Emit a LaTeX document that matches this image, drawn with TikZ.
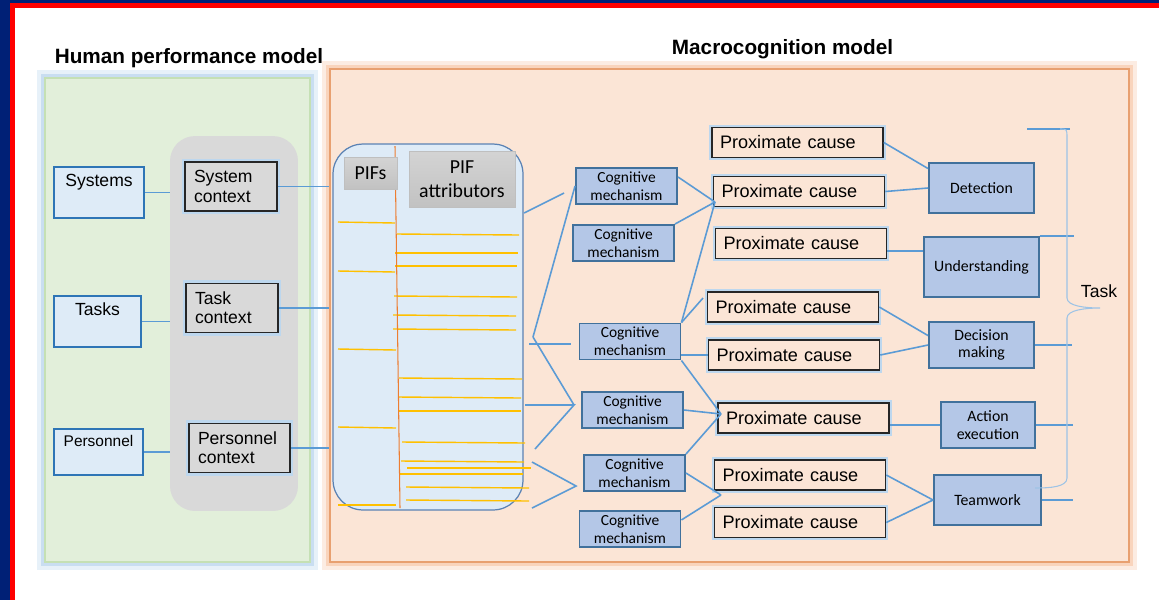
\documentclass[tikz,border=0pt]{standalone}
\usepackage{fontspec}
\setmainfont{Liberation Sans}
\newfontfamily\calibri{Carlito}
\usepackage{tikz}

\definecolor{framenavy}{RGB}{0,32,118}
\definecolor{framered}{RGB}{255,0,0}
\definecolor{hpmgreen}{RGB}{226,239,218}
\definecolor{hpmedge}{RGB}{197,224,180}
\definecolor{glowblue}{RGB}{189,215,238}
\definecolor{mcmfill}{RGB}{251,229,214}
\definecolor{mcmedge}{RGB}{232,160,112}
\definecolor{glowor}{RGB}{248,203,173}
\definecolor{ctxgray}{RGB}{217,217,217}
\definecolor{srcfill}{RGB}{222,235,247}
\definecolor{srcedge}{RGB}{46,117,182}
\definecolor{cogfill}{RGB}{180,199,231}
\definecolor{cogedge}{RGB}{65,113,156}
\definecolor{linkblue}{RGB}{91,155,213}
\definecolor{bracecol}{RGB}{157,195,230}
\definecolor{pifyellow}{RGB}{255,192,0}
\definecolor{piforange}{RGB}{237,125,49}
\definecolor{pifedge}{RGB}{90,130,180}
\definecolor{tabgray}{RGB}{203,203,203}

\tikzset{
  link/.style={draw=linkblue, line width=0.9pt},
  attr/.style={draw=pifyellow, line width=0.8pt},
  panel/.style={inner sep=0pt, line width=1pt},
  glow/.style={preaction={draw=#1, line width=9pt, draw opacity=0.35},
    preaction={draw=#1, line width=5pt, draw opacity=0.7}},
  srcbox/.style={draw=srcedge, fill=srcfill, line width=1pt, inner sep=0pt},
  srctext/.style={anchor=north, inner sep=0pt, yshift=-0.15cm, font=\fontsize{10}{12}\selectfont},
  ctxbox/.style={draw=black!85, fill=ctxgray, line width=1pt,
    preaction={draw=glowblue, line width=3.5pt}, align=left,
    inner xsep=0.18cm, minimum height=0.98cm, font=\fontsize{10}{11}\selectfont},
  tabbox/.style={draw=black!25, top color=black!17, bottom color=black!24,
    align=center, inner sep=0pt, font=\calibri\fontsize{11.3}{13.7}\selectfont},
  cogbox/.style={draw=cogedge, fill=cogfill, line width=1.1pt, align=center,
    inner sep=0pt, minimum width=2.02cm, minimum height=0.72cm,
    font=\calibri\fontsize{8.8}{10.2}\selectfont},
  causebox/.style={draw=black!85, fill=mcmfill, line width=0.9pt,
    preaction={draw=glowblue, line width=3pt}, text width=3.1cm, align=left,
    inner xsep=0.16cm, inner ysep=0pt, minimum height=0.6cm,
    font=\fontsize{10.3}{12}\selectfont},
  taskbox/.style={draw=cogedge, fill=cogfill, line width=1.1pt, align=center,
    inner sep=0pt, font=\calibri\fontsize{9}{10}\selectfont},
  title/.style={font=\bfseries\fontsize{11.8}{14}\selectfont}
}

\begin{document}
\begin{tikzpicture}[x=0.02cm, y=-0.02cm]
\useasboundingbox (0,0) rectangle (1159,600);
\fill[white] (0,0) rectangle (1159,600);
\fill[framenavy] (0,0) rectangle (10,600);
\fill[framenavy] (0,0) rectangle (1159,3);
\fill[framered] (10,3) rectangle (15,600);
\fill[framered] (10,3) rectangle (1159,8);

\node[title] (hpmtitle) at (189,58) {Human performance model};
\node[title] (mcmtitle) at (782.5,49.5) {Macrocognition model};

\node[panel, draw=hpmedge, fill=hpmgreen, glow=glowblue,
  minimum width=5.3cm, minimum height=9.68cm] (hpm) at (177.5,320) {};
\node[panel, draw=mcmedge, fill=mcmfill, glow=glowor,
  minimum width=15.98cm, minimum height=9.86cm] (mcm) at (729.5,315.5) {};

\node[fill=ctxgray, rounded corners=0.5cm, minimum width=2.56cm, minimum height=7.5cm] (ctxbg) at (234,323.5) {};

\node[srcbox, minimum width=1.8cm, minimum height=1.02cm, label={[srctext]north:Systems}] (systems) at (99,192.5) {};
\node[srcbox, minimum width=1.74cm, minimum height=1.02cm, label={[srctext]north:Tasks}] (tasks) at (97.5,321.5) {};
\node[srcbox, minimum width=1.78cm, minimum height=0.92cm,
  label={[srctext, yshift=0.02cm, font=\fontsize{8.8}{10}\selectfont]north:Personnel}] (personnel) at (98.5,452) {};

\node[ctxbox, text width=1.48cm] (sysctx) at (231,186.5) {System\\context};
\node[ctxbox, text width=1.48cm] (taskctx) at (232,308) {Task\\context};
\node[ctxbox, text width=1.66cm] (persctx) at (239.5,448) {Personnel\\context};

\node[draw=pifedge, fill=srcfill, line width=0.7pt, rounded corners=0.6cm,
  minimum width=3.8cm, minimum height=7.32cm] (pif) at (428,327) {};

\draw[attr] (338,222) -- (395,223);
\draw[attr] (338,271) -- (395,272);
\draw[attr] (338,349) -- (396,350);
\draw[attr] (338,427) -- (396,428);
\draw[attr] (338,505) -- (396,505);
\draw[attr] (397,234) -- (519,235);
\draw[attr] (395,253) -- (518,253);
\draw[attr] (395,266) -- (517,266);
\draw[attr] (394,296) -- (517,297);
\draw[attr] (393,315) -- (516,316);
\draw[attr] (393,329) -- (516,330);
\draw[attr] (399,378) -- (522,379);
\draw[attr] (398,397) -- (521,398);
\draw[attr] (399,411) -- (521,411);
\draw[attr] (402,442) -- (525,443);
\draw[attr] (401,461) -- (524,462);
\draw[attr] (407,468) -- (531,468);
\draw[attr] (400,474) -- (523,474);
\draw[attr] (406,487) -- (529,488);
\draw[attr] (406,500) -- (529,501);
\draw[piforange, line width=0.6pt] (395,146) -- (400,508);

\node[tabbox, minimum width=1.06cm, minimum height=0.64cm] (pifs) at (370.5,173) {PIFs};
\node[tabbox, minimum width=2.12cm, minimum height=1.12cm] (pifattr) at (462,179) {PIF\\attributors};

\node[cogbox] (cm1) at (626.5,186) {Cognitive\\mechanism};
\node[cogbox] (cm2) at (623.5,243) {Cognitive\\mechanism};
\node[cogbox] (cm3) at (630,341.5) {Cognitive\\mechanism};
\node[cogbox] (cm4) at (632.5,410) {Cognitive\\mechanism};
\node[cogbox] (cm5) at (634.5,473) {Cognitive\\mechanism};
\node[cogbox] (cm6) at (630,529) {Cognitive\\mechanism};

\node[causebox] (pc1) at (797.5,142.5) {Proximate cause};
\node[causebox] (pc2) at (799,191.5) {Proximate cause};
\node[causebox] (pc3) at (801,243.5) {Proximate cause};
\node[causebox] (pc4) at (793,307) {Proximate cause};
\node[causebox] (pc5) at (794,355) {Proximate cause};
\node[causebox] (pc6) at (803.5,418) {Proximate cause};
\node[causebox] (pc7) at (800,475) {Proximate cause};
\node[causebox] (pc8) at (800,522.5) {Proximate cause};

\node[taskbox, minimum width=2.1cm, minimum height=1cm] (detection) at (981.5,188) {Detection};
\node[taskbox, minimum width=2.3cm, minimum height=1.2cm] (understanding) at (981.5,267) {Understanding};
\node[taskbox, minimum width=2.1cm, minimum height=0.92cm] (decision) at (981.5,345) {Decision\\making};
\node[taskbox, minimum width=1.88cm, minimum height=0.92cm] (action) at (988,425) {Action\\execution};
\node[taskbox, minimum width=2.14cm, minimum height=1cm] (teamwork) at (987.5,500) {Teamwork};

\node[font=\fontsize{10}{12}\selectfont] (task) at (1099,291.5) {Task};

\draw[link] (systems.east) -- (systems.east -| ctxbg.west);
\draw[link] (tasks.east) -- (tasks.east -| ctxbg.west);
\draw[link] (personnel.east) -- (personnel.east -| ctxbg.west);
\draw[link] (sysctx.east) -- (sysctx.east -| mcm.west);
\draw[link] (taskctx.east) -- (taskctx.east -| mcm.west);
\draw[link] (persctx.east) -- (persctx.east -| mcm.west);

\coordinate (a1) at (524,213);
\coordinate (a2) at (564,193);
\coordinate (fork1) at (533,337);
\coordinate (a3) at (529,344);
\coordinate (a4) at (571,344);
\coordinate (a5) at (525,405);
\coordinate (fork2) at (574,405);
\coordinate (a6) at (535,449);
\coordinate (fork3) at (576,486);
\coordinate (a7) at (532,462);
\coordinate (a8) at (532,508);
\draw[link] (a1) -- (a2);
\draw[link] (fork1) -- (cm1.west);
\draw[link] (fork1) -- (fork2);
\draw[link] (a3) -- (a4);
\draw[link] (a5) -- (fork2) -- (a6);
\draw[link] (a7) -- (fork3) -- (a8);

\coordinate (k1) at (715,202);
\coordinate (k2) at (703,298);
\coordinate (k3) at (721,414);
\coordinate (k4) at (721,495);
\draw[link] (cm1.10) -- (k1);
\draw[link] (cm2.north east) -- (k1);
\draw[link] (cm3.north east) -- (k1);
\draw[link] (cm3.north east) -- (k2);
\draw[link] (pc5.west -| cm3.east) -- (pc5.west);
\draw[link] (cm3.south east) -- (k3);
\draw[link] (cm4.east) -- (k3);
\draw[link] (cm5.north east) -- (k3);
\draw[link] (cm5.east) -- (k4);
\draw[link] (cm6.10) -- (k4);

\draw[link] (pc1.east) -- (detection.160);
\draw[link] (pc2.east) -- (detection.west);
\draw[link] (pc3.-5) -- (pc3.-5 -| understanding.west);
\draw[link] (pc4.east) -- (decision.170);
\draw[link] (pc5.east) -- (decision.west);
\draw[link] (pc6.east |- action.west) -- (action.west);
\draw[link] (pc7.east) -- (teamwork.west);
\draw[link] (pc8.east) -- (teamwork.west);

\draw[link] (understanding.north east) -- ++(34,0);
\draw[link] (decision.east) -- ++(37,0);
\draw[link] (action.east) -- ++(37,0);
\draw[link] (teamwork.east) -- ++(31,0);

\coordinate (brtop) at (1060,129);
\coordinate (brtip) at (1100,308);
\coordinate (brend) at (1035,488);
\draw[link] (brtop) ++(-33,0) -- ++(43,0);
\draw[bracecol, line width=0.6pt] (brtop) .. controls (1067,129) .. (1067,138) -- (1067,298)
  .. controls (1067,306) and (1085,308) .. (brtip)
  .. controls (1085,308) and (1067,310) .. (1067,318) -- (1067,478)
  .. controls (1067,487) and (1050,488) .. (brend);
\end{tikzpicture}
\end{document}
